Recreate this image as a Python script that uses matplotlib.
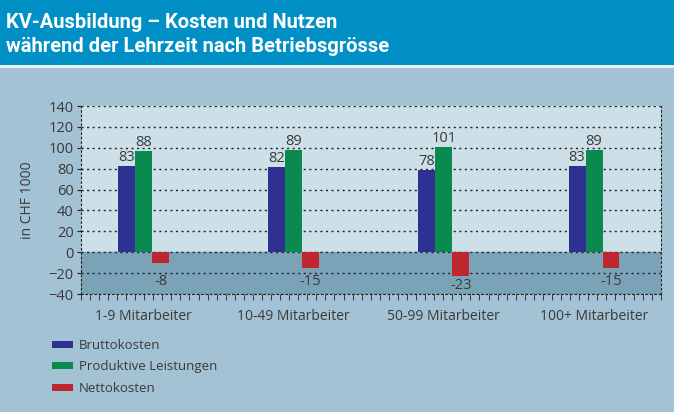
import matplotlib.pyplot as plt
from matplotlib.patches import Rectangle
from matplotlib.ticker import MultipleLocator
import numpy as np

plt.rcParams['font.family'] = ['Open Sans', 'DejaVu Sans']

categories = ['1-9 Mitarbeiter', '10-49 Mitarbeiter', '50-99 Mitarbeiter', '100+ Mitarbeiter']
series = ['Bruttokosten', 'Produktive Leistungen', 'Nettokosten']
# bar heights as drawn in the picture
brutto = [83, 82, 79, 83]
produktiv = [97, 98, 101, 98]
netto = [-10, -15, -23, -15]
# printed value labels
brutto_lbl = ['83', '82', '78', '83']
produktiv_lbl = ['88', '89', '101', '89']
netto_lbl = ['-8', '-15', '-23', '-15']

colors = ['#2e3192', '#0b8a4f', '#be2630']
text_col = '#3a3a3a'

fig = plt.figure(figsize=(6.74, 4.12), dpi=100)
fig.patch.set_facecolor('#a3c2d3')
fig.patches.append(Rectangle((0, 1 - 65 / 412), 1, 65 / 412, transform=fig.transFigure,
                             facecolor='#0090c5', edgecolor='none', zorder=0))
fig.patches.append(Rectangle((0, 1 - 68 / 412), 1, 3 / 412, transform=fig.transFigure,
                             facecolor='#e8eef1', edgecolor='none', zorder=0))
title_font = ['Roboto', 'DejaVu Sans']
fig.text(6 / 674, 1 - 22 / 412, 'KV-Ausbildung – Kosten und Nutzen', color='white',
         fontsize=14.5, fontweight='bold', va='center', ha='left', family=title_font)
fig.text(6 / 674, 1 - 46 / 412, 'während der Lehrzeit nach Betriebsgrösse', color='white',
         fontsize=14.5, fontweight='bold', va='center', ha='left', family=title_font)

ax = fig.add_axes([80.7 / 674, 1 - 294 / 412, 580 / 674, 188 / 412])
ax.set_facecolor('#cddfe7')
ax.axhspan(-40, 0, color='#7ba3b8', zorder=0)

x = np.arange(len(categories))
w = 0.113
for i, (vals, lbls) in enumerate([(brutto, brutto_lbl), (produktiv, produktiv_lbl), (netto, netto_lbl)]):
    xs = x + (i - 1) * w
    ax.bar(xs, vals, width=w, color=colors[i], zorder=3, label=series[i])
    for xi, v, t in zip(xs, vals, lbls):
        if v >= 0:
            ax.text(xi, v + 0.5, t, ha='center', va='bottom', fontsize=10.5, color=text_col, zorder=4)
        else:
            ax.text(xi, min(v - 9, -28), t, ha='center', va='center', fontsize=10.5, color=text_col, zorder=4)

ax.set_xlim(-0.418, 3.444)
ax.set_ylim(-40, 140)
ax.yaxis.set_major_locator(MultipleLocator(20))
ax.grid(axis='y', linestyle=(0, (1.5, 2.5)), color='#222222', linewidth=1, zorder=1)
for s in ['left', 'bottom', 'right', 'top']:
    ax.spines[s].set_linestyle((0, (1.5, 2.5)))
    ax.spines[s].set_color('#222222')
ax.spines['top'].set_visible(False)

ax.set_xticks(x)
ax.set_xticklabels(categories)
ax.set_xticks(np.linspace(-0.418, 3.444, 65), minor=True)
ax.tick_params(axis='x', which='major', length=0, pad=11, labelsize=10, labelcolor=text_col)
ax.tick_params(axis='x', which='minor', length=4, color='#222222', direction='out')
ax.tick_params(axis='y', length=3, color='#222222', labelsize=10.5, labelcolor=text_col, pad=2)
ax.set_ylabel('in CHF 1000', fontsize=10, color=text_col, labelpad=10)

leg = fig.legend(handles=ax.containers, labels=series, loc='upper left',
                 bbox_to_anchor=(40 / 674, 1 - 327 / 412), frameon=False, fontsize=9.5,
                 labelcolor=text_col, handlelength=1.6, handleheight=0.45, handletextpad=0.45,
                 labelspacing=0.65)

fig.savefig('out.png', dpi=100, facecolor=fig.get_facecolor())
